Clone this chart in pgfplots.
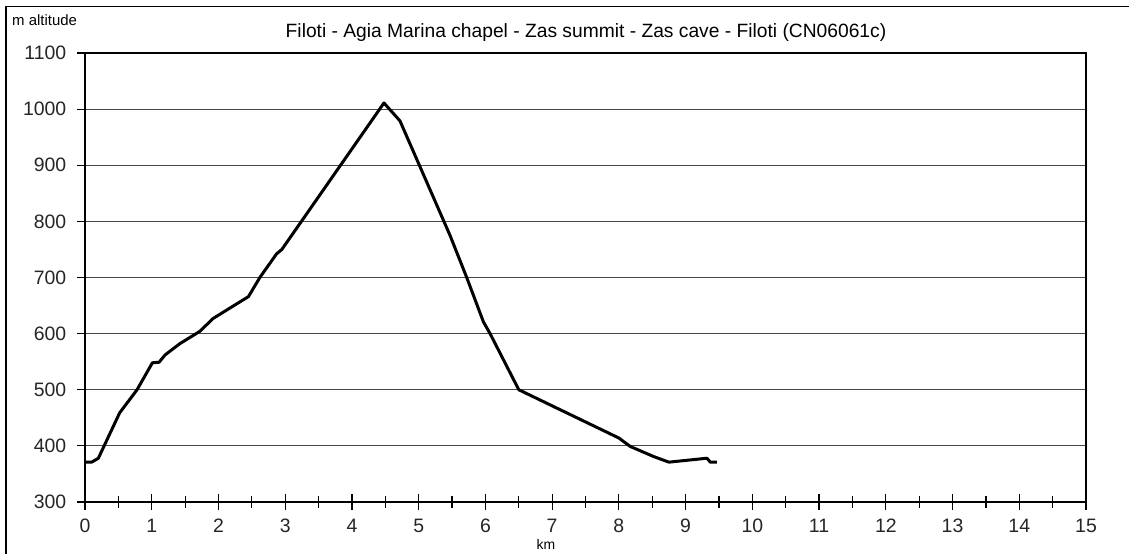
\documentclass[border=0pt]{standalone}
\usepackage{pgfplots}
\pgfplotsset{compat=1.18}
\usepackage{fontspec}
\setmainfont{Liberation Sans}
\begin{document}
\begin{tikzpicture}[x=1bp,y=1bp]
\useasboundingbox (0,0) rectangle (1129,554);
\fill[white] (0,0) rectangle (1129,554);
\draw[line width=1.6bp] (6,0) -- (6,547.5) -- (1129,547.5);
\begin{axis}[
  at={(85bp,52bp)}, anchor=south west,
  scale only axis, width=1001bp, height=449bp,
  xmin=0, xmax=15, ymin=300, ymax=1100,
  xtick={0,...,15}, minor xtick={0.5,1.5,...,14.5},
  ytick={300,400,...,1100},
  xtick pos=bottom, ytick pos=left,
  xtick align=center, ytick align=outside,
  xtick style={line width=1.2bp, black, /pgfplots/major tick length=16bp, /pgfplots/minor tick length=12bp},
  ytick style={line width=1.2bp, black, /pgfplots/major tick length=8bp},
  ymajorgrids, grid style={draw=black!72, line width=1.2bp},
  axis line style={line width=1.2bp},
  /pgf/number format/assume math mode=true,
  /pgf/number format/1000 sep={},
  ticklabel style={font=\fontsize{19.5}{22}\selectfont, text=black!85},
  xticklabel style={yshift=-11bp},
  yticklabel style={xshift=-11bp},
]
\addplot[black, line width=3bp, line join=round] coordinates {
(0,371) (0.1,371) (0.2,378) (0.52,459) (0.78,500) (1.01,548) (1.11,549)
(1.2,562) (1.42,582) (1.72,604) (1.92,627) (2.45,666) (2.62,700)
(2.87,742) (2.95,750) (4.48,1011) (4.72,979) (5.47,775) (5.72,700)
(5.97,621) (6.07,600) (6.5,500) (8.0,414) (8.17,399) (8.52,381)
(8.75,371) (9.32,378) (9.37,371) (9.47,371)
};
\end{axis}
\node[font=\fontsize{19.3}{22}\selectfont] at (586,521) {Filoti - Agia Marina chapel - Zas summit - Zas cave - Filoti (CN06061c)};
\node[font=\fontsize{15}{17}\selectfont, anchor=west, inner sep=0pt] at (12,534) {m altitude};
\node[font=\fontsize{14}{16}\selectfont] at (546,10) {km};
\end{tikzpicture}
\end{document}
